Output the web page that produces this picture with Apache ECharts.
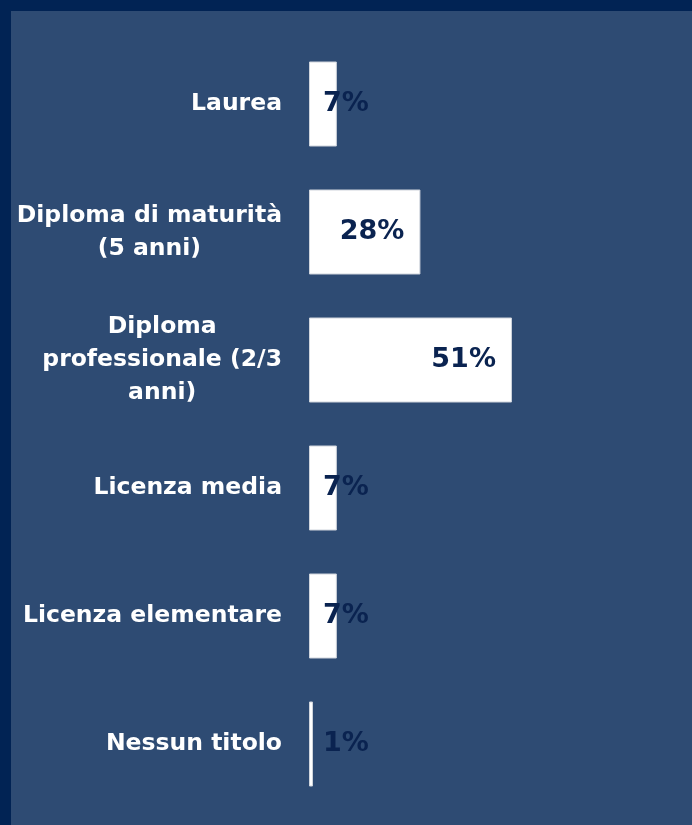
<!DOCTYPE html>
<html>
<head>
<meta charset="utf-8">
<script src="https://cdn.jsdelivr.net/npm/echarts@6/dist/echarts.min.js"></script>
<style>
  html, body { margin: 0; padding: 0; background: #012354; }
  #chart { width: 692px; height: 825px; }
</style>
</head>
<body>
<div id="chart"></div>
<script>
// categories top to bottom
let categories = [
  'Laurea',
  'Diploma di maturità\n(5 anni)',
  'Diploma\nprofessionale (2/3\nanni)',
  'Licenza media',
  'Licenza elementare',
  'Nessun titolo'
];
let values = [7, 28, 51, 7, 7, 1];

const fontFamily = '"DejaVu Sans", sans-serif';
const labelNavy = '#0a2350';

// wide bars get the label at the inner end, thin ones just past the start
let barData = values.map((v) => {
  let label = v >= 20
    ? { position: 'insideRight', distance: 16 }
    : { position: [14, '50%'], align: 'left', verticalAlign: 'middle' };
  return { value: v, label: label };
});

let chart = echarts.init(document.getElementById('chart'));

let options = {
  backgroundColor: '#012354',
  animation: false,
  graphic: [{
    type: 'rect',
    shape: { x: 11, y: 11, width: 681, height: 814 },
    style: { fill: '#2e4b73' },
    z: -10
  }],
  grid: { left: 309, right: 1, top: 40, bottom: 17 },
  xAxis: {
    type: 'value',
    min: 0,
    max: 96,
    show: false
  },
  yAxis: {
    type: 'category',
    data: categories,
    inverse: true,
    axisLine: { show: false },
    axisTick: { show: false },
    axisLabel: {
      margin: 27,
      color: '#ffffff',
      fontFamily: fontFamily,
      fontWeight: 'bold',
      fontSize: 23.5,
      lineHeight: 33,
      formatter: (val) => val.split('\n').map(l => '{c|' + l + '}').join('\n'),
      rich: {
        c: {
          align: 'center',
          color: '#ffffff',
          fontFamily: fontFamily,
          fontWeight: 'bold',
          fontSize: 23.5,
          lineHeight: 33
        }
      }
    }
  },
  series: [{
    type: 'bar',
    data: barData,
    barWidth: 85,
    itemStyle: {
      color: '#ffffff',
      borderColor: '#cfd4dc',
      borderWidth: 1
    },
    label: {
      show: true,
      formatter: '{c}%',
      color: labelNavy,
      fontFamily: fontFamily,
      fontWeight: 'bold',
      fontSize: 27
    }
  }]
};

chart.setOption(options);
</script>
</body>
</html>
